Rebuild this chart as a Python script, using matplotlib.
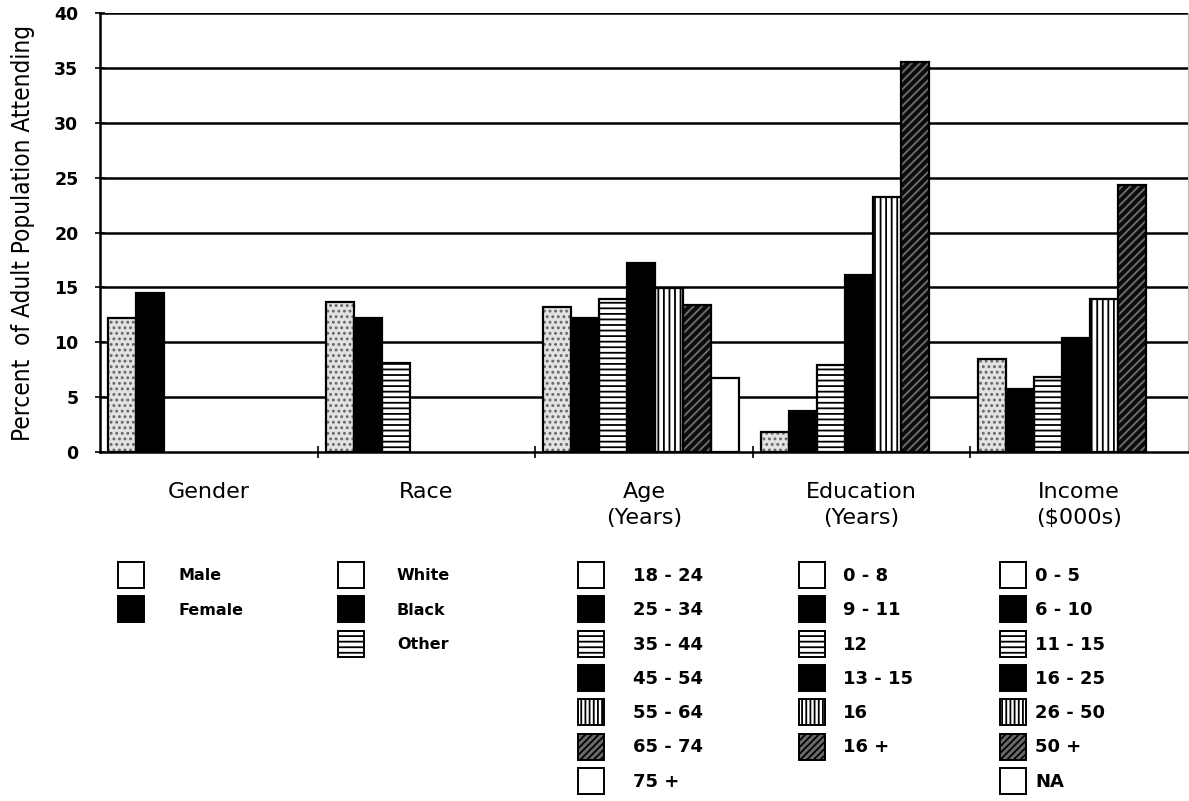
import matplotlib
matplotlib.use("Agg")
import matplotlib.pyplot as plt
from matplotlib.patches import Rectangle

# ---- data ----
groups = ["Gender", "Race", "Age\n(Years)", "Education\n(Years)", "Income\n($000s)"]
gender_labels = ["Male", "Female"]
gender_vals = [12.2, 14.5]
race_labels = ["White", "Black", "Other"]
race_vals = [13.7, 12.2, 8.1]
age_labels = ["18 - 24", "25 - 34", "35 - 44", "45 - 54", "55 - 64", "65 - 74", "75 +"]
age_vals = [13.2, 12.2, 13.9, 17.2, 14.9, 13.4, 6.7]
edu_labels = ["0 - 8", "9 - 11", "12", "13 - 15", "16", "16 +"]
edu_vals = [1.8, 3.7, 7.9, 16.1, 23.2, 35.5]
income_labels = ["0 - 5", "6 - 10", "11 - 15", "16 - 25", "26 - 50", "50 +", "NA"]
income_vals = [8.5, 5.7, 6.8, 10.4, 13.9, 24.3, 0.0]
yticks = [0, 5, 10, 15, 20, 25, 30, 35, 40]
ylabel = "Percent  of Adult Population Attending"

all_vals = [gender_vals, race_vals, age_vals, edu_vals, income_vals]
all_labels = [gender_labels, race_labels, age_labels, edu_labels, income_labels]

plt.rcParams["hatch.linewidth"] = 1.3

W, H = 1189, 801
fig = plt.figure(figsize=(W / 100, H / 100), dpi=100)
ax = fig.add_axes([100 / W, 1 - 452 / H, 1088 / W, 439 / H])

# bar styles by slot
def bar_style(i):
    if i == 0:
        return dict(facecolor="#e2e2e2", hatch="...", hedge="#666666")
    if i in (1, 3):
        return dict(facecolor="black", hatch=None, hedge="black")
    if i == 2:
        return dict(facecolor="white", hatch="---", hedge="black")
    if i == 4:
        return dict(facecolor="white", hatch="|||", hedge="black")
    if i == 5:
        return dict(facecolor="#0c0c0c", hatch="////", hedge="#707070")
    return dict(facecolor="white", hatch=None, hedge="black")

bw = 28 / 217.6
off = 8 / 217.6
for g, vals in enumerate(all_vals):
    for i, v in enumerate(vals):
        if v <= 0:
            continue
        st = bar_style(i)
        x = g + off + i * bw
        ax.bar(x, v, width=bw, align="edge", color=st["facecolor"],
               hatch=st["hatch"], edgecolor=st["hedge"], linewidth=0, zorder=3)
        ax.bar(x, v, width=bw, align="edge", fill=False,
               edgecolor="black", linewidth=1.6, zorder=4)

ax.set_xlim(0, 5)
ax.set_ylim(0, 40)
ax.set_yticks(yticks)
ax.set_yticklabels([str(t) for t in yticks], fontsize=12.5, fontweight="bold")
for t in yticks[1:]:
    ax.axhline(t, color="black", linewidth=1.8, zorder=1)
ax.set_xticks([1, 2, 3, 4])
ax.set_xticklabels([])
ax.tick_params(axis="x", direction="inout", length=9, width=1.2)
ax.tick_params(axis="y", direction="inout", length=7, width=1.2, pad=12)
for s in ("left", "bottom"):
    ax.spines[s].set_linewidth(1.8)
ax.spines["top"].set_visible(False)
ax.spines["right"].set_color("#bbbbbb")
ax.spines["right"].set_linewidth(0.8)
ax.set_ylabel(ylabel, family="DejaVu Sans", fontstretch="condensed",
              fontsize=17.5, labelpad=14)

# overlay in pixel coordinates for group labels and legends
ov = fig.add_axes([0, 0, 1, 1])
ov.set_xlim(0, W)
ov.set_ylim(H, 0)
ov.axis("off")
ov.patch.set_visible(False)

centers = [100 + (g + 0.5) * 217.6 for g in range(5)]
for c, name in zip(centers, groups):
    ov.text(c, 482, name, ha="center", va="top", fontsize=16, linespacing=1.35)

def legend_style(i):
    if i in (1, 3):
        return dict(facecolor="black", hatch=None, hedge="black")
    if i == 2:
        return dict(facecolor="white", hatch="---", hedge="black")
    if i == 4:
        return dict(facecolor="white", hatch="||||", hedge="black")
    if i == 5:
        return dict(facecolor="#6a6a6a", hatch="/////", hedge="black")
    return dict(facecolor="white", hatch=None, hedge="black")

box_x = [118, 338, 578, 799, 1000]
text_x = [178, 397, 633, 843, 1035]
text_fs = [11.5, 11.5, 13, 13, 13]
row_y0 = 575
row_dy = 34.3
bs = 26
for g, labels in enumerate(all_labels):
    for i, lab in enumerate(labels):
        yc = row_y0 + i * row_dy
        st = legend_style(i)
        ov.add_patch(Rectangle((box_x[g], yc - bs / 2), bs, bs,
                               facecolor=st["facecolor"], hatch=st["hatch"],
                               edgecolor=st["hedge"], linewidth=0))
        ov.add_patch(Rectangle((box_x[g], yc - bs / 2), bs, bs, fill=False,
                               edgecolor="black", linewidth=1.4))
        ov.text(text_x[g], yc + 1, lab, ha="left", va="center",
                fontsize=text_fs[g], fontweight="bold")

fig.savefig("out.png", dpi=100)
